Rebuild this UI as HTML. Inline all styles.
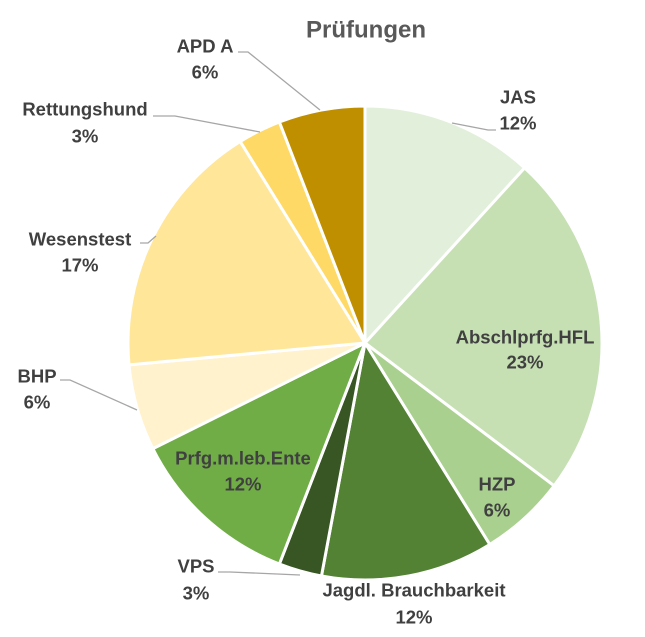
<!DOCTYPE html>
<html><head><meta charset="utf-8"><style>
body{margin:0;background:#fff;}
svg text{font-family:"Liberation Sans",sans-serif;font-weight:bold;fill:#404040;font-size:18.5px;text-anchor:middle;dominant-baseline:central;}
</style></head><body>
<svg id="s" width="645" height="632" xmlns="http://www.w3.org/2000/svg">
<text x="366" y="30" style="font-size:24px;fill:#595959">Prüfungen</text>
<g id="pie"></g>
<g stroke="#a6a6a6" stroke-width="1.3" fill="none">
<polyline points="238,52 248,52 320,110"/>
<polyline points="452,123 488,130 496,130"/>
<polyline points="153,116 175,116 260,132"/>
<polyline points="140,243 148,243 156,236"/>
<polyline points="60,380 70,380 137,410"/>
<polyline points="218,572 230,572 300,575"/>
</g>
<text x="205" y="46">APD A</text><text x="205" y="72">6%</text>
<text x="518" y="97">JAS</text><text x="518" y="123">12%</text>
<text x="85" y="109">Rettungshund</text><text x="85" y="136">3%</text>
<text x="80" y="239">Wesenstest</text><text x="80" y="265">17%</text>
<text x="525" y="337">Abschlprfg.HFL</text><text x="525" y="362">23%</text>
<text x="37" y="376">BHP</text><text x="37" y="402">6%</text>
<text x="243" y="458">Prfg.m.leb.Ente</text><text x="243" y="484">12%</text>
<text x="497" y="484">HZP</text><text x="497" y="510">6%</text>
<text x="196" y="566">VPS</text><text x="196" y="593">3%</text>
<text x="414" y="590">Jagdl. Brauchbarkeit</text><text x="414" y="617">12%</text>
</svg>
<script>
var d=[[4,"#e2efda"],[8,"#c6e0b4"],[2,"#a9d08e"],[4,"#548235"],[1,"#375623"],[4,"#70ad47"],[2,"#fff2cc"],[6,"#ffe699"],[1,"#ffd966"],[2,"#bf8f00"]];
var cx=365,cy=343,r=237,a=0,h="";
d.forEach(function(s){var a2=a+s[0]/34*2*Math.PI;
var x1=cx+r*Math.sin(a),y1=cy-r*Math.cos(a),x2=cx+r*Math.sin(a2),y2=cy-r*Math.cos(a2);
h+='<path d="M'+cx+','+cy+' L'+x1+','+y1+' A'+r+','+r+' 0 '+(a2-a>Math.PI?1:0)+' 1 '+x2+','+y2+' Z" fill="'+s[1]+'" stroke="#fff" stroke-width="3" stroke-linejoin="round"/>';a=a2;});
document.getElementById("pie").innerHTML=h;
</script>
</body></html>
